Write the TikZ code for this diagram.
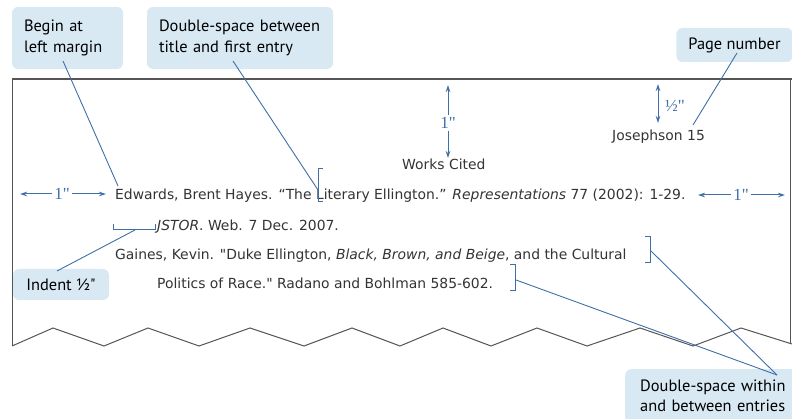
\documentclass[tikz,border=0pt]{standalone}
\usepackage{fontspec}
\setmainfont{DejaVu Sans}
\newfontfamily\pagefont{DejaVu Sans}
\newfontfamily\callfont{PT Sans}
\newfontfamily\dimfont{Liberation Serif}
\usetikzlibrary{arrows.meta}
\definecolor{ann}{HTML}{3E6FA6}
\definecolor{bub}{HTML}{D8E9F4}
\definecolor{txt}{HTML}{333333}
\definecolor{edgec}{HTML}{555555}
\begin{document}
\begin{tikzpicture}[x=1pt,y=-1pt,
  callout/.style={fill=bub, rounded corners=6pt, inner xsep=12pt, inner ysep=0pt,
    font=\callfont\fontsize{16.4}{21}\selectfont, text=black, align=left},
  pagetext/.style={anchor=base west, inner sep=0pt, text=txt, font=\pagefont\fontsize{13.9}{15}\selectfont},
  leader/.style={draw=ann, line width=0.9pt},
  brack/.style={draw=ann, line width=1pt},
  dimarrow/.style={draw=ann, line width=1pt, -{Stealth[length=7pt,width=4.5pt]}},
  dimlabel/.style={text=ann, inner sep=0pt, font=\dimfont\fontsize{17}{19}\selectfont},
  pageedge/.style={draw=edgec, line width=1pt}
]
\useasboundingbox (0,0) rectangle (792,419);

% page outline
\draw[pageedge, line width=1.6pt] (12,79) -- (792,79);
\draw[pageedge] (12,79) -- (12,346);
\draw[pageedge] (790,79) -- (790,343);
\draw[pageedge] (12,346) -- (53,328) -- (104,346) -- (148,328) -- (199,346) -- (250,328)
  -- (304,346) -- (352,328) -- (400,346) -- (443,328) -- (491,346) -- (537,328)
  -- (587,346) -- (640,328) -- (693,346) -- (741,328) -- (792,344);

% page text
\node[pagetext] (page) at (612,141) {Josephson 15};
\node[pagetext] (works) at (402,170) {Works Cited};
\node[pagetext] (l1) at (115,200) {Edwards, Brent Hayes. “The Literary Ellington.” \textit{Representations} 77 (2002): 1-29.};
\node[pagetext] (l2) at (157,231) {\textit{JSTOR}. Web. 7 Dec. 2007.};
\node[pagetext] (l3) at (115,260) {Gaines, Kevin. "Duke Ellington, \textit{Black, Brown, and Beige}, and the Cultural};
\node[pagetext] (l4) at (157,289) {Politics of Race." Radano and Bohlman 585-602.};

% dimension arrows
\node[dimlabel] (top1) at (448,123) {1"};
\coordinate (top1a) at (448,85);
\coordinate (top1b) at (448,158);
\draw[dimarrow] (top1.north) ++(0,-2) -- (top1a);
\draw[dimarrow] (top1.south) ++(0,2) -- (top1b);

\coordinate (halfa) at (658,84);
\coordinate (halfb) at (658,123);
\draw[dimarrow, {Stealth[length=7pt,width=4.5pt]}-{Stealth[length=7pt,width=4.5pt]}] (halfa) -- (halfb);
\node[dimlabel, anchor=west] (half) at (665,106) {½"};

\node[dimlabel] (left1) at (62,194) {1"};
\coordinate (left1a) at (20,194);
\coordinate (left1b) at (106,194);
\draw[dimarrow] (left1.west) ++(-2,0) -- (left1a);
\draw[dimarrow] (left1.east) ++(2,0) -- (left1b);

\node[dimlabel] (right1) at (741,195) {1"};
\coordinate (right1a) at (698,195);
\coordinate (right1b) at (785,195);
\draw[dimarrow] (right1.west) ++(-2,0) -- (right1a);
\draw[dimarrow] (right1.east) ++(2,0) -- (right1b);

% brackets
\draw[brack] (113,224) -- (113,230) -- (155,230) -- (155,224);
\coordinate (indentb) at (135,230);
\draw[brack] (323,169) -- (318,169) -- (318,202) -- (323,202);
\coordinate (litb) at (318,190);
\draw[brack] (645,237) -- (650,237) -- (650,263) -- (645,263);
\coordinate (cultb) at (651,251);
\draw[brack] (510,265) -- (515,265) -- (515,291) -- (510,291);
\coordinate (raceb) at (516,280);
\coordinate (edwb) at (118,186);
\coordinate (pgb) at (693,125);

% callouts
\node[callout, minimum width=111pt, minimum height=62pt, text width=87pt] (c1) at (67.5,38) {Begin at\\left margin};
\node[callout, minimum width=186pt, minimum height=62pt, text width=162pt] (c2) at (240,38) {Double-space between\\title and first entry};
\node[callout, minimum width=111pt, minimum height=34pt, align=center] (c3) at (734.5,45) {Page number};
\node[callout, minimum width=96pt, minimum height=31pt, align=center] (c4) at (61,284.5) {Indent ½"};
\node[callout, anchor=north west, minimum width=180pt, minimum height=54pt, text width=150pt, inner xsep=10pt,
  font=\callfont\fontsize{16.4}{20}\selectfont] (c5) at (625,369) {Double-space within\\and between entries};

\coordinate (c1p) at (63,61);
\coordinate (c2p) at (233,61);
\coordinate (c3p) at (737,53);
\coordinate (c4p) at (57,271);
\coordinate (c5p) at (777,375);

% leaders
\draw[leader] (c1p) -- (edwb);
\draw[leader] (c2p) -- (litb);
\draw[leader] (c3p) -- (pgb);
\draw[leader] (c4p) -- (indentb);
\draw[leader] (cultb) -- (c5p);
\draw[leader] (raceb) -- (c5p);
\end{tikzpicture}
\end{document}
